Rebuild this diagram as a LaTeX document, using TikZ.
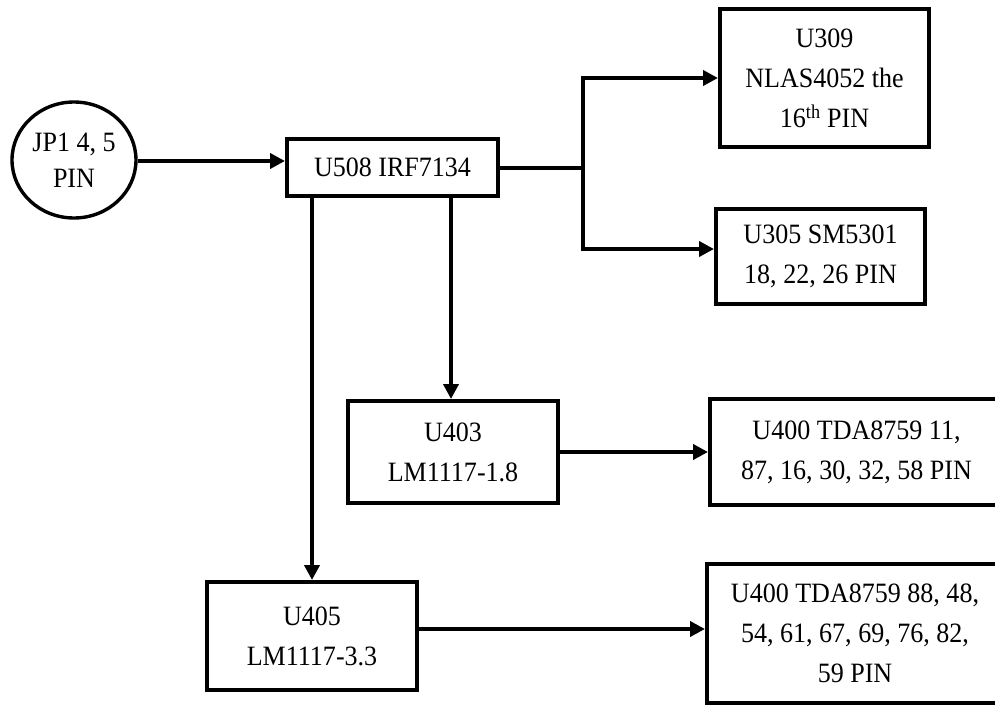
\documentclass[tikz,border=0pt]{standalone}
\usepackage{fontspec}
\setmainfont{Liberation Serif}[FakeStretch=0.93]
\usetikzlibrary{arrows.meta,shapes.geometric}
\tikzset{
  box/.style={draw, line width=4pt, rectangle, align=center, inner sep=0pt,
    font=\fontsize{28}{40}\selectfont},
  arr/.style={line width=4pt, -{Triangle[length=15pt,width=15pt]}},
  ln/.style={line width=4pt},
}
\begin{document}
\begin{tikzpicture}[x=1pt,y=-1pt]
\useasboundingbox (0,0) rectangle (995,704);
\clip (0,0) rectangle (995,704);
\node[draw, ellipse, line width=3.4pt, minimum width=124pt, minimum height=116pt, inner sep=0pt,
  align=center, font=\fontsize{28}{36}\selectfont] (jp) at (74,160) {JP1 4, 5\\PIN};
\node[box, minimum width=211pt, minimum height=57pt] (u508) at (392.5,167.5) {U508 IRF7134};
\node[box, minimum width=209pt, minimum height=138pt] (u309) at (824.5,78) {U309\\NLAS4052 the\\16\textsuperscript{th} PIN};
\node[box, minimum width=209pt, minimum height=95pt] (u305) at (820.5,256.5) {U305 SM5301\\18, 22, 26 PIN};
\node[box, minimum width=210pt, minimum height=102pt] (u403) at (453,452) {U403\\LM1117-1.8};
\node[box, minimum width=210pt, minimum height=108pt] (u405) at (312,636) {U405\\LM1117-3.3};
\node[box, minimum width=293pt, minimum height=106pt] (u400a) at (856.5,452) {U400 TDA8759 11,\\87, 16, 30, 32, 58 PIN};
\node[box, minimum width=296pt, minimum height=139pt] (u400b) at (855,633.5) {U400 TDA8759 88, 48,\\54, 61, 67, 69, 76, 82,\\59 PIN};
\coordinate (j1) at (583,167.5);
\draw[arr] ([yshift=-1pt]jp.east) -- ([yshift=-1pt]jp.east -| u508.west);
\draw[ln] (u508.east) -- (j1);
\draw[arr] (j1) |- (u309.west);
\draw[arr] (j1) |- ([yshift=7.5pt]u305.west);
\draw[arr] ([xshift=-2pt]u508.south -| u403.north) -- ([xshift=-2pt]u403.north);
\draw[arr] (u508.south -| u405.north) -- (u405.north);
\draw[arr] (u403.east) -- (u403.east -| u400a.west);
\draw[arr] ([yshift=7pt]u405.east) -- ([yshift=7pt]u405.east -| u400b.west);
\end{tikzpicture}
\end{document}
